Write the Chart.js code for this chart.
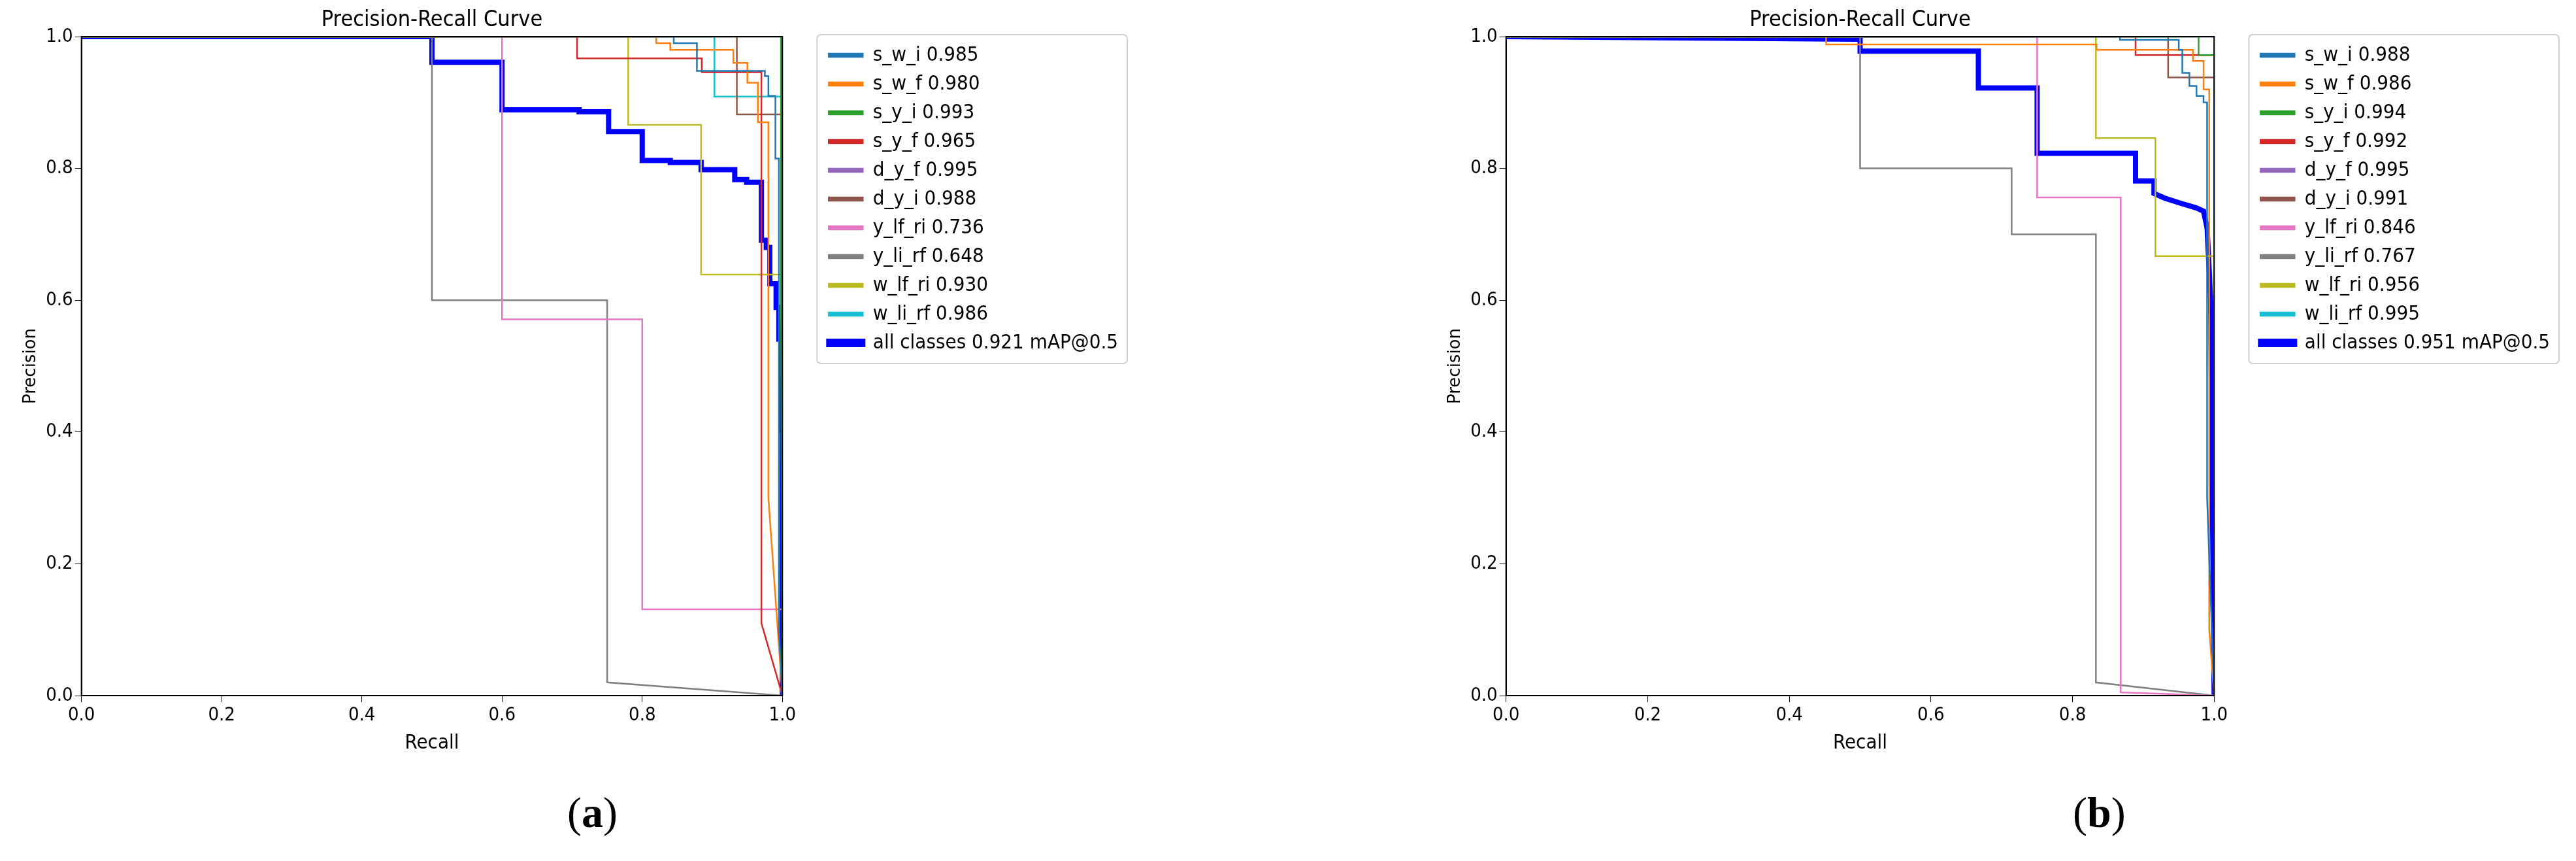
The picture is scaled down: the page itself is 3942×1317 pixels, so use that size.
<!DOCTYPE html>
<html>
<head>
<meta charset="utf-8">
<script src="https://cdn.jsdelivr.net/npm/chart.js@4.4.0/dist/chart.umd.min.js"></script>
<style>
  body { margin: 0; background: #fff; width: 3942px; height: 1317px; position: relative; overflow: hidden; }
  .panel { position: absolute; top: 0; }
  .cap { position: absolute; top: 1205px; font: 66px "Liberation Serif", serif; }
</style>
</head>
<body>
<div class="panel" style="left:0;width:1971px;height:1160px"><canvas id="chartA"></canvas></div>
<div class="panel" style="left:2180px;width:1762px;height:1160px"><canvas id="chartB"></canvas></div>
<div class="cap" style="left:868px">(<b>a</b>)</div>
<div class="cap" style="left:3172px">(<b>b</b>)</div>
<script>
// --- class names / colours ---
const classNames = ["s_w_i", "s_w_f", "s_y_i", "s_y_f", "d_y_f", "d_y_i", "y_lf_ri", "y_li_rf", "w_lf_ri", "w_li_rf"];
const classColors = ["#1f77b4", "#ff7f0e", "#2ca02c", "#d62728", "#9467bd", "#8c564b", "#e377c2", "#7f7f7f", "#bcbd22", "#17becf"];
const apA = ["0.985", "0.980", "0.993", "0.965", "0.995", "0.988", "0.736", "0.648", "0.930", "0.986"];
const apB = ["0.988", "0.986", "0.994", "0.992", "0.995", "0.991", "0.846", "0.767", "0.956", "0.995"];
const mapA = "0.921";
const mapB = "0.951";
const axisTicks = [0, 0.2, 0.4, 0.6, 0.8, 1.0];

// --- (a) curves: [recall, precision] ---
const swiA = [[0,1],[0.845,1],[0.845,0.99],[0.878,0.99],[0.878,0.948],[0.975,0.948],[0.975,0.94],[0.98,0.94],[0.98,0.91],[0.99,0.91],[0.99,0.815],[0.995,0.815],[0.995,0.1],[1,0]];
const swfA = [[0,1],[0.82,1],[0.82,0.99],[0.84,0.99],[0.84,0.98],[0.93,0.98],[0.93,0.96],[0.95,0.96],[0.95,0.93],[0.965,0.93],[0.965,0.87],[0.98,0.87],[0.98,0.3],[1,0]];
const syiA = [[0,1],[0.998,1],[0.998,0.6],[1,0]];
const syfA = [[0,1],[0.707,1],[0.707,0.967],[0.885,0.967],[0.885,0.946],[0.97,0.946],[0.97,0.11],[1,0]];
const dyfA = [[0,1],[1,1],[1,0]];
const dyiA = [[0,1],[0.935,1],[0.935,0.882],[1,0.882],[1,0]];
const ylfriA = [[0,1],[0.6,1],[0.6,0.571],[0.8,0.571],[0.8,0.131],[1,0.131],[1,0]];
const ylirfA = [[0,1],[0.5,1],[0.5,0.6],[0.75,0.6],[0.75,0.02],[1,0]];
const wlfriA = [[0,1],[0.78,1],[0.78,0.866],[0.884,0.866],[0.884,0.639],[1,0.639],[1,0]];
const wlirfA = [[0,1],[0.903,1],[0.903,0.909],[1,0.909],[1,0]];
const allA = [[0,1],[0.5,1],[0.5,0.961],[0.6,0.961],[0.6,0.889],[0.71,0.889],[0.71,0.886],[0.752,0.886],[0.752,0.856],[0.8,0.856],[0.8,0.812],[0.84,0.812],[0.84,0.809],[0.884,0.809],[0.884,0.798],[0.932,0.798],[0.932,0.783],[0.949,0.783],[0.949,0.779],[0.97,0.779],[0.97,0.691],[0.977,0.691],[0.977,0.68],[0.982,0.68],[0.982,0.625],[0.991,0.625],[0.991,0.589],[0.995,0.589],[0.995,0.541],[0.998,0.541],[0.998,0.403],[1,0.403],[1,0]];

// --- (b) curves ---
const swiB = [[0,1],[0.867,1],[0.867,0.995],[0.95,0.995],[0.95,0.98],[0.955,0.98],[0.955,0.945],[0.965,0.945],[0.965,0.925],[0.975,0.925],[0.975,0.91],[0.985,0.91],[0.985,0.9],[0.99,0.9],[0.99,0.3],[1,0]];
const swfB = [[0,1],[0.452,1],[0.452,0.988],[0.834,0.988],[0.834,0.98],[0.97,0.98],[0.97,0.963],[0.985,0.963],[0.985,0.92],[0.993,0.92],[0.993,0.1],[1,0]];
const syiB = [[0,1],[0.978,1],[0.978,0.972],[1,0.972],[1,0]];
const syfB = [[0,1],[0.889,1],[0.889,0.972],[1,0.972],[1,0]];
const dyfB = [[0,1],[1,1],[1,0]];
const dyiB = [[0,1],[0.935,1],[0.935,0.938],[1,0.938],[1,0]];
const ylfriB = [[0,1],[0.75,1],[0.75,0.756],[0.868,0.756],[0.868,0.005],[1,0]];
const ylirfB = [[0,1],[0.5,1],[0.5,0.8],[0.714,0.8],[0.714,0.7],[0.833,0.7],[0.833,0.02],[1,0]];
const wlfriB = [[0,1],[0.833,1],[0.833,0.846],[0.917,0.846],[0.917,0.667],[1,0.667],[1,0]];
const wlirfB = [[0,1],[1,1],[1,0.23],[1,0]];
const allB = [[0,1],[0.5,0.996],[0.5,0.978],[0.667,0.978],[0.667,0.922],[0.75,0.922],[0.75,0.823],[0.889,0.823],[0.889,0.781],[0.915,0.781],[0.915,0.762],[0.93,0.755],[0.95,0.748],[0.975,0.74],[0.985,0.735],[0.99,0.71],[0.995,0.6],[1,0]];

const FONT = '"DejaVu Sans Condensed", "DejaVu Sans", sans-serif';

// frame + title + legend border drawn around the plot area
const framePlugin = {
  id: "frame",
  afterDraw(chart) {
    const { ctx, chartArea: a } = chart;
    ctx.save();
    ctx.strokeStyle = "#000";
    ctx.lineWidth = 2;
    ctx.strokeRect(a.left, a.top, a.right - a.left, a.bottom - a.top);
    ctx.fillStyle = "#000";
    ctx.font = "34px " + FONT;
    ctx.textAlign = "center";
    ctx.textBaseline = "bottom";
    ctx.fillText("Precision-Recall Curve", (a.left + a.right) / 2, a.top - 8);
    const boxes = chart.legend.legendHitBoxes;
    if (boxes && boxes.length) {
      const l = Math.min(...boxes.map(b => b.left)) - 18;
      const t = Math.min(...boxes.map(b => b.top)) - 16;
      const r = Math.max(...boxes.map(b => b.left + b.width)) + 14;
      const btm = Math.max(...boxes.map(b => b.top + b.height)) + 16;
      ctx.strokeStyle = "#d0d0d0";
      ctx.lineWidth = 2;
      ctx.beginPath();
      ctx.roundRect(l, t, r - l, btm - t, 6);
      ctx.stroke();
    }
    ctx.restore();
  }
};

function makeChart(id, curves, all, ap, map, padRight) {
  const datasets = curves.map((c, i) => ({
    label: `${classNames[i]} ${ap[i]}`,
    data: c.map(p => ({ x: p[0], y: p[1] })),
    borderColor: classColors[i],
    backgroundColor: classColors[i],
    borderWidth: 2.5
  }));
  datasets.push({
    label: `all classes ${map} mAP@0.5`,
    data: all.map(p => ({ x: p[0], y: p[1] })),
    borderColor: "#0000ff",
    backgroundColor: "#0000ff",
    borderWidth: 8
  });
  const tickFont = { family: FONT, size: 29 };
  return new Chart(document.getElementById(id), {
    type: "line",
    data: { datasets },
    options: {
      responsive: true,
      maintainAspectRatio: false,
      animation: false,
      elements: { point: { radius: 0 }, line: { tension: 0 } },
      layout: { padding: { top: 56, right: padRight, left: 28, bottom: 0 } },
      plugins: {
        tooltip: { enabled: false },
        legend: {
          position: "right",
          align: "start",
          maxWidth: 900,
          labels: {
            font: { family: FONT, size: 31 },
            color: "#000",
            boxWidth: 52,
            boxHeight: 5,
            padding: 13
          }
        }
      },
      scales: {
        x: {
          type: "linear", min: 0, max: 1,
          afterBuildTicks: s => { s.ticks = axisTicks.map(v => ({ value: v })); },
          ticks: { font: tickFont, color: "#000", callback: v => v.toFixed(1), maxRotation: 0 },
          grid: { drawOnChartArea: false, drawTicks: true, tickLength: 10, color: "#000" },
          border: { color: "#000", width: 2 },
          title: { display: true, text: "Recall", font: { family: FONT, size: 31 }, color: "#000" }
        },
        y: {
          type: "linear", min: 0, max: 1,
          afterBuildTicks: s => { s.ticks = axisTicks.map(v => ({ value: v })); },
          ticks: { font: tickFont, color: "#000", callback: v => v.toFixed(1) },
          grid: { drawOnChartArea: false, drawTicks: true, tickLength: 10, color: "#000" },
          border: { color: "#000", width: 2 },
          title: { display: true, text: "Precision", font: { family: "DejaVu Sans", size: 26 }, color: "#000" }
        },
        gap: {
          type: "linear", position: "right", display: true,
          afterFit: s => { s.width = 58; },
          ticks: { display: false },
          grid: { display: false },
          border: { display: false }
        }
      }
    },
    plugins: [framePlugin]
  });
}

makeChart("chartA", [swiA, swfA, syiA, syfA, dyfA, dyiA, ylfriA, ylirfA, wlfriA, wlirfA], allA, apA, mapA, 250);
makeChart("chartB", [swiB, swfB, syiB, syfB, dyfB, dyiB, ylfriB, ylirfB, wlfriB, wlirfB], allB, apB, mapB, 30);
</script>
</body>
</html>
